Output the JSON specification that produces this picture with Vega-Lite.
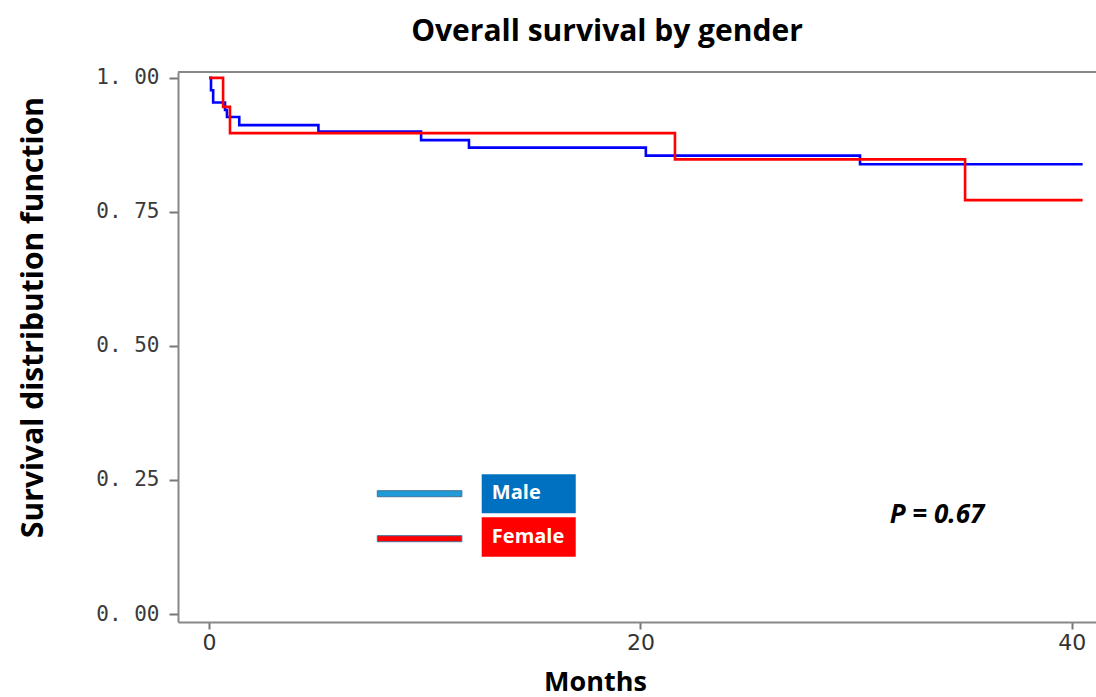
{
  "$schema": "https://vega.github.io/schema/vega-lite/v6.json",
  "autosize": "none",
  "width": 918,
  "height": 550,
  "padding": {"left": 178, "top": 72, "right": 0, "bottom": 75},
  "background": "white",
  "config": {"view": {"stroke": null}, "axis": {"grid": false}},
  "title": {
    "text": "Overall survival by gender",
    "font": "Open Sans",
    "fontSize": 30,
    "fontWeight": "bold",
    "color": "black",
    "anchor": "middle",
    "dx": -30,
    "offset": -4,
    "baseline": "alphabetic"
  },
  "datasets": {
    "km": [
      {"gender": "Male", "month": 0, "survival": 1.0},
      {"gender": "Male", "month": 0.09, "survival": 0.977},
      {"gender": "Male", "month": 0.19, "survival": 0.954},
      {"gender": "Male", "month": 0.74, "survival": 0.94},
      {"gender": "Male", "month": 0.83, "survival": 0.927},
      {"gender": "Male", "month": 1.4, "survival": 0.912},
      {"gender": "Male", "month": 5.07, "survival": 0.9},
      {"gender": "Male", "month": 9.83, "survival": 0.884},
      {"gender": "Male", "month": 12.05, "survival": 0.87},
      {"gender": "Male", "month": 20.25, "survival": 0.855},
      {"gender": "Male", "month": 30.18, "survival": 0.839},
      {"gender": "Male", "month": 40.5, "survival": 0.839},
      {"gender": "Female", "month": 0, "survival": 1.0},
      {"gender": "Female", "month": 0.65, "survival": 0.946},
      {"gender": "Female", "month": 0.97, "survival": 0.897},
      {"gender": "Female", "month": 21.6, "survival": 0.848},
      {"gender": "Female", "month": 35.05, "survival": 0.772},
      {"gender": "Female", "month": 40.5, "survival": 0.772}
    ]
  },
  "layer": [
    {
      "data": {"name": "km"},
      "transform": [{"filter": "datum.gender === 'Male'"}],
      "mark": {"type": "line", "interpolate": "step-after", "strokeWidth": 2.6},
      "encoding": {
        "x": {
          "field": "month",
          "type": "quantitative",
          "scale": {"domain": [-1.44, 41.12], "nice": false, "zero": false},
          "axis": {
            "values": [0, 20, 40],
            "title": "Months",
            "titleFont": "Open Sans",
            "titleFontSize": 27,
            "titleFontWeight": "bold",
            "titleColor": "black",
            "titleX": 417,
            "titleY": 68,
            "titleAlign": "center",
            "titleBaseline": "alphabetic",
            "domainColor": "#888888",
            "domainWidth": 2,
            "tickColor": "#777777",
            "tickWidth": 2,
            "tickSize": 7,
            "labelFont": "DejaVu Sans",
            "labelFontSize": 22,
            "labelColor": "#333333",
            "labelPadding": 3
          }
        },
        "y": {
          "field": "survival",
          "type": "quantitative",
          "scale": {"domain": [-0.0149, 1.011], "nice": false, "zero": false},
          "axis": {
            "values": [0, 0.25, 0.5, 0.75, 1],
            "labelExpr": "replace(format(datum.value, '.2f'), '.', '. ')",
            "title": "Survival distribution function",
            "titleFont": "Open Sans",
            "titleFontSize": 30,
            "titleFontWeight": "bold",
            "titleColor": "black",
            "titleAngle": -90,
            "titleX": -136,
            "titleY": 245,
            "titleAlign": "center",
            "titleBaseline": "alphabetic",
            "domainColor": "#888888",
            "domainWidth": 2,
            "tickColor": "#777777",
            "tickWidth": 2,
            "tickSize": 9,
            "labelFont": "DejaVu Sans Mono",
            "labelFontSize": 21,
            "labelColor": "#3a3a3a",
            "labelPadding": 10
          }
        },
        "color": {
          "field": "gender",
          "type": "nominal",
          "scale": {"domain": ["Male", "Female"], "range": ["#0000FF", "#FF0000"]},
          "legend": null
        }
      }
    },
    {
      "data": {"name": "km"},
      "transform": [{"filter": "datum.gender === 'Female'"}],
      "mark": {"type": "line", "interpolate": "step-after", "strokeWidth": 2.6},
      "encoding": {
        "x": {"field": "month", "type": "quantitative"},
        "y": {"field": "survival", "type": "quantitative"},
        "color": {"field": "gender", "type": "nominal"}
      }
    },
    {
      "data": {"values": [{}]},
      "mark": {"type": "rule", "color": "#888888", "strokeWidth": 2},
      "encoding": {"y": {"datum": 1.011}}
    },
    {
      "data": {"values": [{}]},
      "mark": {"type": "rect", "fill": "#1F9BD7", "stroke": "#41719C", "strokeWidth": 1},
      "encoding": {
        "x": {"datum": 7.8}, "x2": {"datum": 11.72},
        "y": {"datum": 0.23}, "y2": {"datum": 0.2188}
      }
    },
    {
      "data": {"values": [{}]},
      "mark": {"type": "rect", "fill": "#FF0000", "stroke": "#41719C", "strokeWidth": 1},
      "encoding": {
        "x": {"datum": 7.8}, "x2": {"datum": 11.72},
        "y": {"datum": 0.1461}, "y2": {"datum": 0.1349}
      }
    },
    {
      "data": {"values": [{}]},
      "mark": {"type": "rect", "fill": "#0070C0"},
      "encoding": {
        "x": {"datum": 12.64}, "x2": {"datum": 17.0},
        "y": {"datum": 0.2606}, "y2": {"datum": 0.1879}
      }
    },
    {
      "data": {"values": [{}]},
      "mark": {"type": "rect", "fill": "#FF0000"},
      "encoding": {
        "x": {"datum": 12.64}, "x2": {"datum": 17.0},
        "y": {"datum": 0.1804}, "y2": {"datum": 0.1069}
      }
    },
    {
      "data": {"values": [{}]},
      "mark": {"type": "text", "text": "Male", "font": "Open Sans", "fontSize": 20, "fontWeight": "bold", "color": "white", "align": "left", "baseline": "middle"},
      "encoding": {"x": {"datum": 13.11}, "y": {"datum": 0.2252}}
    },
    {
      "data": {"values": [{}]},
      "mark": {"type": "text", "text": "Female", "font": "Open Sans", "fontSize": 20, "fontWeight": "bold", "color": "white", "align": "left", "baseline": "middle"},
      "encoding": {"x": {"datum": 13.11}, "y": {"datum": 0.1437}}
    },
    {
      "data": {"values": [{}]},
      "mark": {"type": "text", "text": "P = 0.67", "font": "Open Sans", "fontSize": 26, "fontWeight": "bold", "fontStyle": "italic", "color": "black", "align": "center", "baseline": "middle"},
      "encoding": {"x": {"datum": 33.75}, "y": {"datum": 0.1847}}
    }
  ]
}
